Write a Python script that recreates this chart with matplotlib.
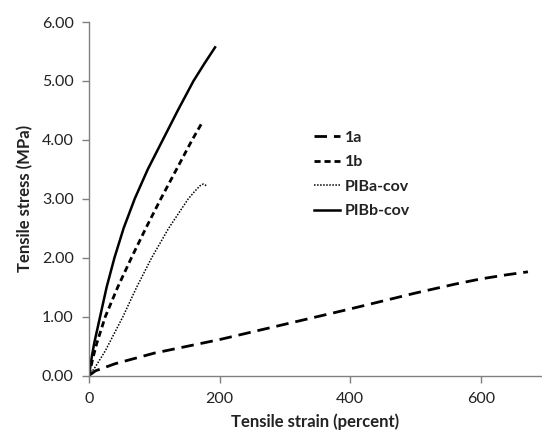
import matplotlib
matplotlib.use("Agg")
import matplotlib.pyplot as plt

# Data
strain_1a = [0, 10, 40, 100, 200, 300, 400, 500, 560, 600, 640, 672]
stress_1a = [0, 0.08, 0.20, 0.38, 0.61, 0.87, 1.13, 1.40, 1.55, 1.64, 1.71, 1.76]

strain_1b = [0, 6, 12, 25, 44, 65, 87, 110, 134, 158, 172]
stress_1b = [0, 0.3, 0.55, 1.0, 1.5, 2.0, 2.5, 3.0, 3.5, 4.0, 4.27]

strain_pa = [0, 10, 25, 52, 73, 96, 122, 140, 152, 163, 170, 175, 180]
stress_pa = [0, 0.15, 0.42, 1.0, 1.5, 2.0, 2.5, 2.8, 3.0, 3.14, 3.22, 3.25, 3.22]

strain_pb = [0, 4, 8, 17, 27, 39, 53, 70, 90, 113, 136, 160, 177, 193]
stress_pb = [0, 0.3, 0.55, 1.0, 1.5, 2.0, 2.5, 3.0, 3.5, 4.0, 4.5, 5.0, 5.3, 5.57]

labels = ["1a", "1b", "PIBa-cov", "PIBb-cov"]
xticks = [0, 200, 400, 600]
yticks = [0, 1, 2, 3, 4, 5, 6]

plt.rcParams['font.family'] = ['Lato', 'DejaVu Sans']

fig = plt.figure(figsize=(5.42, 4.33), dpi=100)
ax = fig.add_axes([89/542, 57.5/433, 452/542, 353.5/433])

ax.plot(strain_1a, stress_1a, color='black', lw=2.0, linestyle=(0, (4.5, 2.5)), label=labels[0])
ax.plot(strain_1b, stress_1b, color='black', lw=2.0, linestyle=(0, (2.2, 1.4)), label=labels[1])
ax.plot(strain_pa, stress_pa, color='black', lw=1.1, linestyle=(0, (1, 1)), label=labels[2])
ax.plot(strain_pb, stress_pb, color='black', lw=1.8, linestyle='-', label=labels[3])

ax.set_xlim(0, 692)
ax.set_ylim(0, 6)
ax.set_xticks(xticks)
ax.set_xticklabels([str(t) for t in xticks])
ax.set_yticks(yticks)
ax.set_yticklabels([f"{t:.2f}" for t in yticks])

for s in ['top', 'right']:
    ax.spines[s].set_visible(False)
for s in ['left', 'bottom']:
    ax.spines[s].set_color('#808080')
    ax.spines[s].set_linewidth(1.0)
ax.tick_params(axis='both', colors='#808080', length=5, width=1.0, labelsize=11.5, labelcolor='#222222')
ax.tick_params(axis='x', pad=7)
ax.tick_params(axis='y', pad=6)

ax.set_xlabel("Tensile strain (percent)", fontsize=12, fontweight='bold', color='#222222', labelpad=5)
ax.set_ylabel("Tensile stress (MPa)", fontsize=12, fontweight='bold', color='#222222', labelpad=6)

leg = ax.legend(loc='upper left', bbox_to_anchor=(300/542, 1 - 116/433), bbox_transform=fig.transFigure,
                frameon=False, handlelength=1.6, handletextpad=0.3, labelspacing=0.65,
                prop={'weight': 'bold', 'size': 11.5})
for t in leg.get_texts():
    t.set_color('#222222')

fig.savefig("out.png", dpi=100)
